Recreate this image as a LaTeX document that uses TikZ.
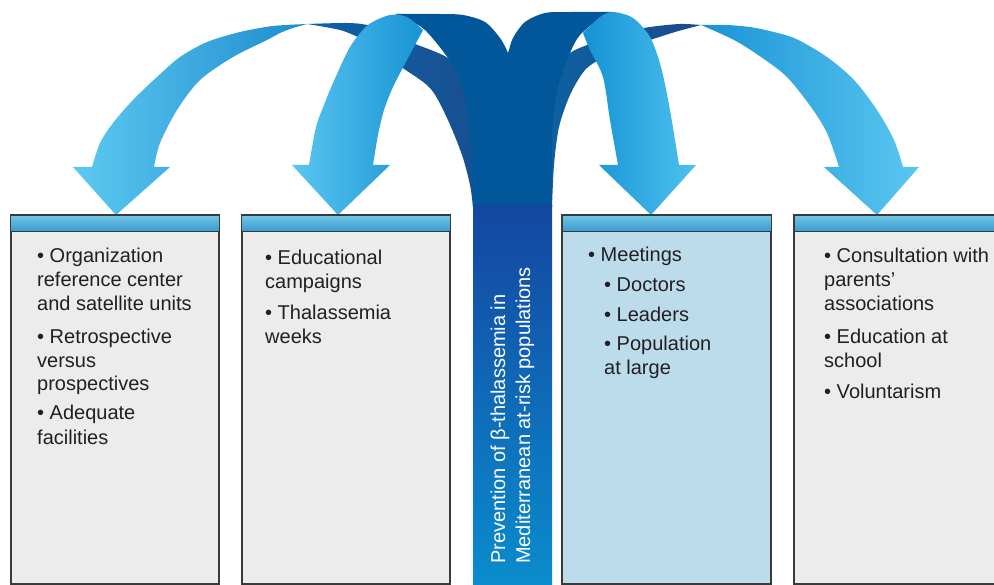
\documentclass[tikz,border=0pt]{standalone}
\usepackage{fontspec}
\setmainfont{Liberation Sans}
\definecolor{txtc}{HTML}{231F20}
\definecolor{boxline}{HTML}{3A3A3A}
\definecolor{boxgray}{HTML}{ECECEC}
\definecolor{boxblue}{HTML}{BCDCEC}
\definecolor{hdtop}{HTML}{72C8E5}
\definecolor{hdbot}{HTML}{3898D0}
\definecolor{bigdark}{HTML}{02569A}
\definecolor{coltop}{HTML}{1446A0}
\definecolor{colbot}{HTML}{0A8DCD}
\definecolor{alightL}{HTML}{5CCAF2}
\definecolor{alightR}{HTML}{1E8BCD}
\definecolor{blightL}{HTML}{5AC6F0}
\definecolor{blightR}{HTML}{1893D4}
\definecolor{clightL}{HTML}{1592D4}
\definecolor{clightR}{HTML}{4EC1EF}
\definecolor{dlightL}{HTML}{1A93D4}
\definecolor{dlightR}{HTML}{5AC7F1}
\definecolor{adarkL}{HTML}{0B62A6}
\definecolor{adarkR}{HTML}{1A4E8F}
\definecolor{ddarkL}{HTML}{0C62A2}
\definecolor{ddarkR}{HTML}{1B4B8C}
\begin{document}
\begin{tikzpicture}[x=1pt,y=-1pt,
  txt/.style={anchor=base west, inner sep=0pt, font=\fontsize{20}{24}\selectfont, text=txtc},
  coltxt/.style={anchor=base west, inner sep=0pt, rotate=90, font=\fontsize{20}{24}\selectfont, text=white},
  boxnode/.style={draw=boxline, line width=1.3pt, inner sep=0pt, minimum height=368, anchor=north west},
  boxedge/.style={draw=boxline, line width=1.3pt}]
\useasboundingbox (0,0) rectangle (994,585);
\clip (0,0) rectangle (994,585);

% ---- back parts of outer ribbons
\shade[left color=adarkL, right color=adarkR]
 plot[smooth] coordinates {(307,24) (347,23) (367,25) (390,33) (410,42) (448,58) (465,80) (478,120) (487,160) (490,207)}
 -- plot[smooth] coordinates {(473,207) (470,185) (462,155) (447,118) (430,88) (400,66) (382,51) (362,39) (340,30) (307,24)}
 -- cycle;
\shade[left color=ddarkL, right color=ddarkR]
 plot[smooth] coordinates {(701,25) (680,24) (650,27) (620,33) (600,40) (587,45) (570,53) (555,70) (545,100) (540,150) (537,207)}
 -- plot[smooth] coordinates {(552,207) (554,165) (559,127) (570,95) (585,70) (604,57) (627,47) (650,40) (675,32) (701,25)}
 -- cycle;

% ---- back parts of inner ribbons
\fill[bigdark]
 plot[smooth] coordinates {(395,14) (440,14) (463,15) (485,22) (500,38) (508,53) (518,80) (527,120) (533,160) (535,207)}
 -- plot[smooth] coordinates {(473,207) (471,150) (467,110) (460,80) (448,58) (425,30) (405,18)}
 -- cycle;
\fill[bigdark]
 plot[smooth] coordinates {(613,12) (570,12) (545,13) (525,22) (513,38) (508,53) (498,80) (491,120) (488,160) (488,207)}
 -- plot[smooth] coordinates {(552,207) (552,150) (553,120) (558,87) (570,53) (580,35) (600,18)}
 -- cycle;

% ---- front parts with arrow heads
\shade[left color=alightL, right color=alightR]
 plot[smooth] coordinates {(92,167) (100,143) (113,123) (133,100) (157,77) (180,57) (207,42) (240,32) (273,26) (307,24)}
 -- plot[smooth] coordinates {(307,24) (293,28) (280,33) (267,40) (233,57) (200,80) (177,110) (160,143) (154,167)}
 -- (170,167) -- (116,215) -- (73,167) -- cycle;
\shade[left color=blightL, right color=blightR]
 plot[smooth] coordinates {(309,165) (316,127) (324,105) (333,83) (350,47) (368,25) (390,15) (407,17) (423,30)}
 -- plot[smooth] coordinates {(423,30) (407,60) (393,87) (384,110) (378,135) (373,165)}
 -- (390,165) -- (338,215) -- (292,165) -- cycle;
\shade[left color=clightL, right color=clightR]
 plot[smooth] coordinates {(618,165) (610,120) (603,77) (590,50) (583,33)}
 -- plot[smooth] coordinates {(583,33) (600,17) (613,12) (633,18) (650,37) (661,67) (670,110) (679,165)}
 -- (696,165) -- (651,215) -- (599,165) -- cycle;
\shade[left color=dlightL, right color=dlightR]
 plot[smooth] coordinates {(701,25) (727,25) (750,27) (761,29) (794,38) (827,57) (854,80) (877,110) (894,140) (903,167)}
 -- (919,167) -- (877,215) -- (824,167) -- (839,167)
 -- plot[smooth] coordinates {(839,167) (827,133) (811,107) (787,77) (761,57) (734,40) (701,25)} -- cycle;

% ---- central column
\node[anchor=north west, inner sep=0pt, minimum width=79, minimum height=382,
      top color=coltop, bottom color=colbot] (col) at (473,205) {};
\node[coltxt] (ct1) at (505,564) {Prevention of β-thalassemia in};
\node[coltxt] (ct2) at (530,564) {Mediterranean at-risk populations};

% ---- boxes
\foreach \n/\x/\w/\fc in {box1/10.7/207.6/boxgray, box2/241.7/207.6/boxgray, box3/562/208/boxblue, box4/794/214/boxgray}{
  \node[boxnode, fill=\fc, minimum width=\w] (\n) at (\x,215) {};
  \shade[top color=hdtop, bottom color=hdbot] (\n.north west) rectangle ([yshift=-16.5pt]\n.north east);
  \draw[boxedge] ([yshift=-16.5pt]\n.north west) -- ([yshift=-16.5pt]\n.north east);
  \draw[boxedge] (\n.north west) rectangle (\n.south east);
}

% ---- texts
\foreach \t/\x/\y [count=\i] in {
  • Organization/37/263, reference center/37/287, and satellite units/37/311,
  • Retrospective/37/344, versus/37/368, prospectives/37/391,
  • Adequate/37/420, facilities/37/444,
  • Educational/265/265, campaigns/265/289, • Thalassemia/265/320, weeks/265/344,
  • Meetings/588/262, • Doctors/604/292, • Leaders/604/322, • Population/604/351, at large/604/375,
  • Consultation with/824/263, parents’/824/287, associations/824/311,
  • Education at/824/344, school/824/368, • Voluntarism/824/399}
  \node[txt] (t\i) at (\x,\y) {\t};
\end{tikzpicture}
\end{document}
